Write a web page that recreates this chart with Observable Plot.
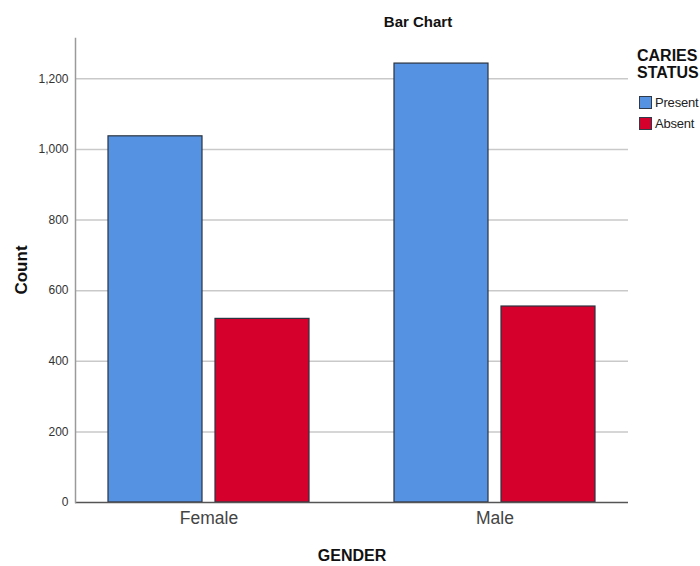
<!DOCTYPE html>
<html>
<head>
<meta charset="utf-8">
<script src="https://cdn.jsdelivr.net/npm/d3@7"></script>
<script src="https://cdn.jsdelivr.net/npm/@observablehq/plot@0.6"></script>
<style>
  body { margin: 0; background: #fff; font-family: "Liberation Sans", Arial, sans-serif; }
  #wrap { position: relative; width: 700px; height: 566px; overflow: hidden; }
  .abs { position: absolute; color: #111; white-space: nowrap; }
  #title { left: 418px; top: 13px; transform: translateX(-50%); font-size: 15px; font-weight: bold; }
  #ylab { left: 22px; top: 270px; transform: translate(-50%, -50%) rotate(-90deg); font-size: 17px; font-weight: bold; }
  #xlab { left: 352px; top: 547px; transform: translateX(-50%); font-size: 16px; font-weight: bold; }
  #legend { left: 637px; top: 47px; }
  #legend .lt { font-size: 16px; font-weight: bold; line-height: 17px; }
  #legend .item { display: flex; align-items: center; font-size: 13px; color: #222; height: 21px; margin-left: 2px; letter-spacing: -0.2px; }
  #legend .sw { width: 11px; height: 11px; border: 1px solid #2f3b4a; margin-right: 3px; }
  #legend .items { margin-top: 11px; }
</style>
</head>
<body>
<div id="wrap">
  <div id="chart"></div>
  <div id="title" class="abs">Bar Chart</div>
  <div id="ylab" class="abs">Count</div>
  <div id="xlab" class="abs">GENDER</div>
  <div id="legend" class="abs"></div>
</div>
<script>
const genders = ["Female", "Male"];
const statuses = ["Present", "Absent"];
const presentCounts = [1037, 1243];
const absentCounts = [520, 555];
const statusColors = ["#5592E2", "#D5002C"];
const yTicks = [0, 200, 400, 600, 800, 1000, 1200];
const legendTitle = ["CARIES", "STATUS"];

const data = genders.flatMap((g, i) => [
  {gender: g, status: statuses[0], count: presentCounts[i]},
  {gender: g, status: statuses[1], count: absentCounts[i]}
]);

const barStyle = {x: "gender", y: "count", fill: "status", stroke: "#2a3340", strokeWidth: 1.2};

const chart = Plot.plot({
  width: 700,
  height: 566,
  marginLeft: 75,
  marginRight: 72,
  marginTop: 38,
  marginBottom: 64,
  style: {fontFamily: "'Liberation Sans', Arial, sans-serif", background: "#fff"},
  x: {domain: genders, paddingInner: 0.296, paddingOuter: 0.1115, label: null},
  y: {domain: [0, 1314], label: null},
  color: {domain: statuses, range: statusColors},
  marks: [
    Plot.gridY(yTicks.slice(1), {stroke: "#c9c9c9", strokeOpacity: 1, strokeWidth: 1.5}),
    Plot.barY(data.filter(d => d.status === statuses[0]), {...barStyle, insetRight: 107}),
    Plot.barY(data.filter(d => d.status === statuses[1]), {...barStyle, insetLeft: 107}),
    Plot.ruleY([0], {stroke: "#555", strokeWidth: 1.5}),
    Plot.frame({anchor: "left", stroke: "#9a9a9a", strokeWidth: 1.5}),
    Plot.axisY({ticks: yTicks, tickFormat: d3.format(","), tickSize: 0, tickPadding: 7, label: null, fontSize: 12, color: "#333"}),
    Plot.axisX({tickSize: 0, tickPadding: 9, label: null, fontSize: 17.5, color: "#444"})
  ]
});
document.getElementById("chart").appendChild(chart);

const legend = document.getElementById("legend");
legend.innerHTML = legendTitle.map(t => `<div class="lt">${t}</div>`).join("") +
  `<div class="items">` +
  statuses.map((s, i) => `<div class="item"><span class="sw" style="background:${statusColors[i]}"></span>${s}</div>`).join("") +
  `</div>`;
</script>
</body>
</html>
